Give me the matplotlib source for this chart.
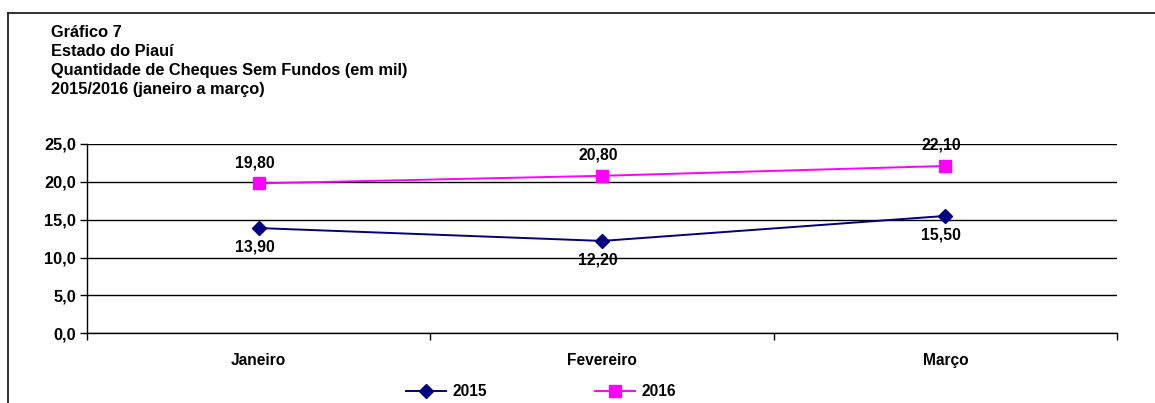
import matplotlib
matplotlib.use("Agg")
import matplotlib.pyplot as plt
from matplotlib.lines import Line2D

plt.rcParams['font.family'] = ['Liberation Sans', 'DejaVu Sans']
plt.rcParams['font.weight'] = 'bold'

months = ["Janeiro", "Fevereiro", "Março"]
values_2015 = [13.90, 12.20, 15.50]
values_2016 = [19.80, 20.80, 22.10]
y_ticks = [0, 5, 10, 15, 20, 25]
title_lines = [
    "Gráfico 7",
    "Estado do Piauí",
    "Quantidade de Cheques Sem Fundos (em mil)",
    "2015/2016 (janeiro a março)",
]

W, H = 1155, 403
fig = plt.figure(figsize=(W / 100, H / 100), dpi=100)

# outer frame (left and top edges)
fig.add_artist(Line2D([8 / W, 8 / W], [0, 1 - 13 / H], color='#222222', lw=1.3,
                      transform=fig.transFigure))
fig.add_artist(Line2D([8 / W, 1], [1 - 13 / H, 1 - 13 / H], color='#222222', lw=1.3,
                      transform=fig.transFigure))

# title block
for i, line in enumerate(title_lines):
    fig.text(51 / W, 1 - (36.7 + 19.2 * i) / H, line, fontsize=11.8, fontweight='bold',
             ha='left', va='baseline')

ax = fig.add_axes([87 / W, 1 - 333.3 / H, (1117 - 87) / W, (333.3 - 144) / H])

x = [i + 0.5 for i in range(len(months))]
l15, = ax.plot(x, values_2015, color='#000080', lw=1.4, marker='D', markersize=7,
               markerfacecolor='#000080', markeredgecolor='#000080', label='2015', zorder=3)
l16, = ax.plot(x, values_2016, color='#FF00FF', lw=1.4, marker='s', markersize=8,
               markerfacecolor='#FF00FF', markeredgecolor='#FF00FF', label='2016', zorder=3)

def fmt(v, d):
    return f"{v:.{d}f}".replace('.', ',')

for xi, v in zip(x, values_2015):
    ax.annotate(fmt(v, 2), (xi, v), xytext=(-3, -14), textcoords='offset points',
                ha='center', va='center', fontsize=11.3, fontweight='bold')
for xi, v in zip(x, values_2016):
    ax.annotate(fmt(v, 2), (xi, v), xytext=(-3, 15), textcoords='offset points',
                ha='center', va='center', fontsize=11.3, fontweight='bold')

ax.set_xlim(0, len(months))
ax.set_ylim(0, 25)
ax.set_yticks(y_ticks)
ax.set_yticklabels([fmt(t, 1) for t in y_ticks], fontsize=11.8, fontweight='bold')
ax.yaxis.grid(True, color='black', lw=1.0)
ax.set_axisbelow(True)

ax.set_xticks(range(len(months) + 1))
ax.set_xticklabels([])
ax.set_xticks(x, minor=True)
ax.set_xticklabels(months, minor=True, fontsize=11.2, fontweight='bold')
ax.tick_params(axis='x', which='major', direction='out', length=5, width=1, color='black')
ax.tick_params(axis='x', which='minor', length=0, pad=14)
ax.tick_params(axis='y', direction='out', length=5, width=1, pad=3)

for s in ['top', 'right']:
    ax.spines[s].set_visible(False)
for s in ['left', 'bottom']:
    ax.spines[s].set_color('black')
    ax.spines[s].set_linewidth(1.0)

fig.legend(handles=[l15, l16], loc='center left', bbox_to_anchor=(406 / W, 1 - 392 / H),
           ncol=2, frameon=False, prop={'weight': 'bold', 'size': 11.2},
           handlelength=2.6, handletextpad=0.4, columnspacing=6.9, borderpad=0,
           borderaxespad=0)

fig.savefig("out.png", dpi=100)
